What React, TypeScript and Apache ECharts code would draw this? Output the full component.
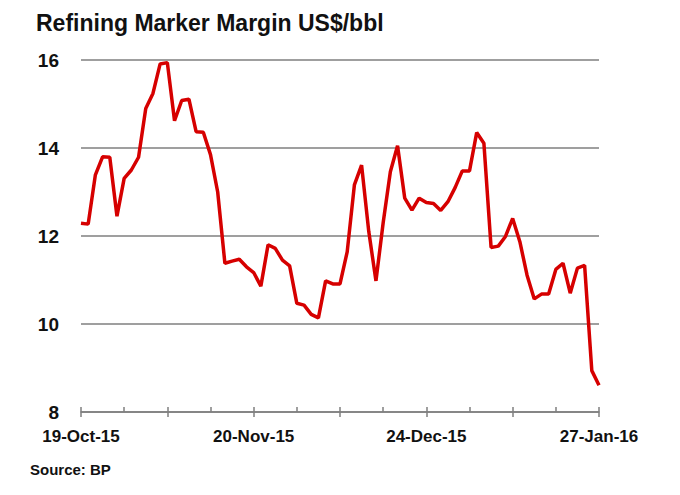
import React, { useEffect, useRef } from "react";
import * as echarts from "echarts";

const TITLE = "Refining Marker Margin US$/bbl";
const SOURCE = "Source: BP";
const START_DATE = "2015-10-19";
const MONTHS = ["Jan", "Feb", "Mar", "Apr", "May", "Jun", "Jul", "Aug", "Sep", "Oct", "Nov", "Dec"];

// Refining marker margin, one value per business day (US$/bbl)
const margin = [
  12.29, 12.27, 13.39, 13.8, 13.79, 12.45, 13.31, 13.5, 13.79, 14.9,
  15.24, 15.91, 15.94, 14.62, 15.08, 15.11, 14.37, 14.36, 13.85, 13.0,
  11.38, 11.43, 11.47, 11.3, 11.17, 10.86, 11.8, 11.72, 11.45, 11.32,
  10.47, 10.43, 10.22, 10.14, 10.98, 10.91, 10.91, 11.64, 13.16, 13.61,
  12.1, 10.98, 12.3, 13.46, 14.05, 12.86, 12.59, 12.86, 12.76, 12.74,
  12.58, 12.78, 13.1, 13.48, 13.48, 14.35, 14.11, 11.74, 11.77, 11.99,
  12.4, 11.87, 11.11, 10.57, 10.68, 10.68, 11.24, 11.38, 10.7, 11.27,
  11.33, 8.94, 8.61,
];

function businessDays(start: string, count: number): string[] {
  const out: string[] = [];
  const d = new Date(start + "T00:00:00Z");
  while (out.length < count) {
    const wd = d.getUTCDay();
    if (wd !== 0 && wd !== 6) {
      const dd = d.getUTCDate();
      const yy = String(d.getUTCFullYear()).slice(2);
      out.push(`${dd}-${MONTHS[d.getUTCMonth()]}-${yy}`);
    }
    d.setUTCDate(d.getUTCDate() + 1);
  }
  return out;
}

const dates = businessDays(START_DATE, margin.length);

export default function App() {
  const ref = useRef<HTMLDivElement>(null);
  useEffect(() => {
    if (!ref.current) return;
    const chart = echarts.init(ref.current, null, { renderer: "svg" });
    const font = "'Liberation Sans', Arial, sans-serif";
    chart.setOption({
      animation: false,
      backgroundColor: "#ffffff",
      title: {
        text: TITLE,
        left: 31,
        top: 6,
        textStyle: { fontFamily: font, fontSize: 23, fontWeight: "bold", color: "#111" },
      },
      graphic: [
        {
          type: "text",
          left: 30,
          top: 462,
          style: { text: SOURCE, font: `bold 15px ${font}`, fill: "#111" },
        },
      ],
      grid: { left: 81, right: 81, top: 60, bottom: 83, containLabel: false },
      xAxis: [
        {
          type: "category",
          data: dates,
          boundaryGap: false,
          axisLine: { show: true, lineStyle: { color: "#7f7f7f", width: 1.5 } },
          axisTick: {
            show: true,
            inside: true,
            length: 5,
            interval: (i: number) => i % 6 === 0,
            lineStyle: { color: "#7f7f7f", width: 1.5 },
          },
          axisLabel: {
            interval: (i: number) => i % 24 === 0,
            margin: 16,
            fontFamily: font,
            fontSize: 17,
            fontWeight: "bold",
            color: "#111",
          },
          splitLine: { show: false },
        },
        {
          type: "category",
          data: dates,
          boundaryGap: false,
          position: "bottom",
          axisLine: { show: false },
          axisTick: {
            show: true,
            inside: false,
            length: 5,
            interval: (i: number) => i % 12 === 0,
            lineStyle: { color: "#7f7f7f", width: 1.5 },
          },
          axisLabel: { show: false },
          splitLine: { show: false },
        },
      ],
      yAxis: {
        type: "value",
        min: 8,
        max: 16,
        interval: 2,
        axisLine: { show: false },
        axisTick: { show: false },
        axisLabel: {
          margin: 22,
          fontFamily: font,
          fontSize: 19,
          fontWeight: "bold",
          color: "#111",
        },
        splitLine: {
          show: true,
          lineStyle: { color: "#7f7f7f", width: 1.5 },
        },
      },
      series: [
        {
          type: "line",
          data: margin,
          xAxisIndex: 0,
          showSymbol: false,
          symbol: "none",
          lineStyle: { color: "#d60000", width: 3.5 },
          z: 5,
        },
      ],
    });
    return () => chart.dispose();
  }, []);
  return (
    <div
      ref={ref}
      style={{ position: "fixed", left: 0, top: 0, width: 680, height: 495, background: "#fff" }}
    />
  );
}
